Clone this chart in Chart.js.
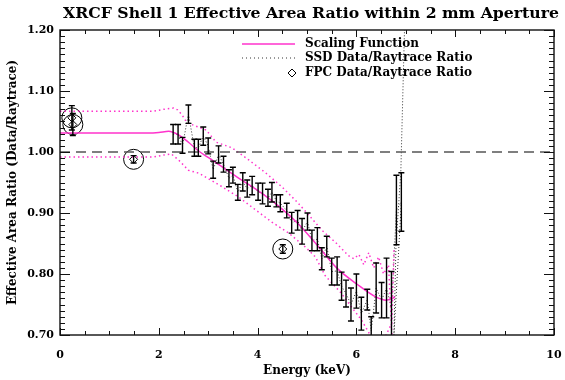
<!DOCTYPE html>
<html>
<head>
<meta charset="utf-8">
<script src="https://cdn.jsdelivr.net/npm/chart.js@4.4.1/dist/chart.umd.min.js"></script>
<style>
  html, body { margin: 0; padding: 0; background: #fff; }
</style>
</head>
<body>
<canvas id="chart" width="565" height="380"></canvas>
<script>
// ---- values ----
const chartTitle = 'XRCF Shell 1 Effective Area Ratio within 2 mm Aperture';
const xTicks = [0, 2, 4, 6, 8, 10];
const yTicks = [0.70, 0.80, 0.90, 1.00, 1.10, 1.20];

// scaling function (solid magenta)
const scaleE = [0, 0.5, 1.0, 1.5, 1.8, 2.0, 2.2, 2.4, 2.6, 2.8, 3.0, 3.2, 3.6, 4.0, 4.4, 4.8, 5.2, 5.6, 6.0, 6.4, 6.6, 6.78];
const scaleV = [1.031, 1.031, 1.031, 1.031, 1.031, 1.032, 1.034, 1.028, 1.016, 1.002, 0.991, 0.980, 0.958, 0.937, 0.913, 0.884, 0.848, 0.810, 0.784, 0.762, 0.757, 0.762];

// upper / lower envelope (dotted magenta)
const upperE = [0, 1.9, 2.1, 2.3, 2.38, 2.47, 2.57, 2.96, 3.16, 3.48, 3.82, 4.16, 4.49, 4.8, 5.0, 5.3, 5.6, 5.84, 5.95, 6.05, 6.15, 6.25, 6.35, 6.45, 6.55, 6.65, 6.72];
const upperV = [1.067, 1.067, 1.070, 1.072, 1.069, 1.061, 1.048, 1.036, 1.016, 1.007, 0.987, 0.966, 0.943, 0.918, 0.900, 0.872, 0.850, 0.830, 0.825, 0.832, 0.815, 0.835, 0.810, 0.828, 0.800, 0.815, 0.700];
const lowerE = [0, 1.9, 2.1, 2.25, 2.4, 2.6, 2.82, 3.22, 3.62, 3.96, 4.29, 4.63, 4.97, 5.17, 5.37, 5.69, 5.90, 6.10, 6.28, 6.45, 6.60, 6.72, 6.76];
const lowerV = [0.992, 0.992, 0.995, 0.997, 0.987, 0.970, 0.965, 0.946, 0.926, 0.905, 0.885, 0.867, 0.844, 0.828, 0.797, 0.769, 0.746, 0.725, 0.700, 0.690, 0.700, 0.720, 0.840];

// SSD data / raytrace ratio with error bars
const ssdE = [2.29, 2.39, 2.48, 2.60, 2.72, 2.80, 2.90, 3.00, 3.10, 3.21, 3.31, 3.42, 3.50, 3.60, 3.70, 3.79, 3.89, 4.01, 4.10, 4.21, 4.29, 4.38, 4.46, 4.59, 4.69, 4.81, 4.90, 5.01, 5.10, 5.21, 5.30, 5.40, 5.50, 5.61, 5.70, 5.79, 5.89, 6.00, 6.10, 6.22, 6.30, 6.40, 6.51, 6.61, 6.71, 6.81, 6.91];
const ssdV = [1.029, 1.029, 1.011, 1.062, 1.007, 1.007, 1.026, 1.010, 0.971, 0.996, 0.980, 0.957, 0.962, 0.934, 0.951, 0.940, 0.945, 0.935, 0.932, 0.925, 0.934, 0.920, 0.916, 0.904, 0.884, 0.888, 0.870, 0.886, 0.855, 0.857, 0.825, 0.845, 0.804, 0.805, 0.780, 0.768, 0.750, 0.772, 0.735, 0.758, 0.707, 0.777, 0.757, 0.777, 0.744, 0.905, 0.918];
const ssdErr = [0.016, 0.016, 0.013, 0.015, 0.014, 0.014, 0.015, 0.013, 0.014, 0.014, 0.013, 0.014, 0.013, 0.013, 0.015, 0.014, 0.015, 0.014, 0.017, 0.014, 0.016, 0.010, 0.014, 0.012, 0.017, 0.016, 0.021, 0.014, 0.017, 0.019, 0.018, 0.017, 0.022, 0.023, 0.023, 0.022, 0.027, 0.028, 0.027, 0.017, 0.023, 0.041, 0.029, 0.049, 0.060, 0.057, 0.048];
// where the SSD dotted curve runs up out of the plot
const ssdTailE = [6.76, 6.80, 6.90, 6.98];
const ssdTailV = [0.700, 0.844, 0.970, 1.220];

// FPC data / raytrace ratio
const fpcE = [0.24, 0.26, 1.49, 4.51];
const fpcV = [1.056, 1.045, 0.988, 0.841];
const fpcErr = [0.020, 0.018, 0.006, 0.007];

const refE = [0, 10];
const refV = [1.0, 1.0];

const MAGENTA = '#ff33cc';
const FONT = 'DejaVu Serif';

const pts = (xs, ys) => xs.map((x, i) => ({ x: x, y: ys[i] }));
const noPad = () => ({ left: 0, right: 0, top: 0, bottom: 0 });

// error bars, box, inward ticks, title and legend
const ratioDecor = {
    id: 'ratioDecor',
    afterDatasetsDraw(chart) {
        const { ctx, chartArea: a, scales: { x, y } } = chart;
        ctx.save();
        ctx.beginPath();
        ctx.rect(a.left, a.top, a.right - a.left, a.bottom - a.top);
        ctx.clip();
        ctx.strokeStyle = '#000';
        ctx.lineWidth = 1.4;
        const bar = (e, v, err, cap) => {
            const px = x.getPixelForValue(e);
            const top = y.getPixelForValue(v + err);
            const bot = y.getPixelForValue(v - err);
            ctx.beginPath();
            ctx.moveTo(px, top); ctx.lineTo(px, bot);
            ctx.moveTo(px - cap, top); ctx.lineTo(px + cap, top);
            ctx.moveTo(px - cap, bot); ctx.lineTo(px + cap, bot);
            ctx.stroke();
        };
        ssdE.forEach((e, i) => bar(e, ssdV[i], ssdErr[i], 3));
        fpcE.forEach((e, i) => bar(e, fpcV[i], fpcErr[i], 3));
        ctx.restore();
    },
    afterDraw(chart) {
        const { ctx, chartArea: a, scales: { x, y } } = chart;
        ctx.save();
        ctx.strokeStyle = '#111';
        ctx.lineWidth = 1.4;
        ctx.strokeRect(a.left, a.top, a.right - a.left, a.bottom - a.top);
        ctx.lineWidth = 1;
        ctx.beginPath();
        for (let v = 0; v <= 10.001; v += 0.5) {
            const px = Math.round(x.getPixelForValue(v)) + 0.5;
            const len = xTicks.includes(Math.round(v * 10) / 10) ? 7 : 4;
            ctx.moveTo(px, a.bottom); ctx.lineTo(px, a.bottom - len);
            ctx.moveTo(px, a.top); ctx.lineTo(px, a.top + len);
        }
        for (let k = 70; k <= 120; k++) {
            const py = Math.round(y.getPixelForValue(k / 100)) + 0.5;
            const len = k % 10 === 0 ? 10 : 5;
            ctx.moveTo(a.left, py); ctx.lineTo(a.left + len, py);
            ctx.moveTo(a.right, py); ctx.lineTo(a.right - len, py);
        }
        ctx.stroke();

        // title, centred a little right of the plot box as in the original
        ctx.fillStyle = '#000';
        ctx.font = 'bold 15.7px "' + FONT + '"';
        ctx.textAlign = 'center';
        ctx.textBaseline = 'middle';
        ctx.fillText(chartTitle, (a.left + a.right) / 2 + 4, 14);

        // legend
        const lx0 = 242, lx1 = 295, tx = 305;
        const rows = [44, 58, 73];
        ctx.lineWidth = 1.5;
        ctx.strokeStyle = MAGENTA;
        ctx.beginPath(); ctx.moveTo(lx0, rows[0]); ctx.lineTo(lx1, rows[0]); ctx.stroke();
        ctx.strokeStyle = '#333';
        ctx.lineWidth = 1;
        ctx.setLineDash([1, 3]);
        ctx.beginPath(); ctx.moveTo(lx0, rows[1]); ctx.lineTo(lx1, rows[1]); ctx.stroke();
        ctx.setLineDash([]);
        ctx.strokeStyle = '#000';
        ctx.beginPath();
        ctx.moveTo(292, rows[2] - 4); ctx.lineTo(296, rows[2]);
        ctx.lineTo(292, rows[2] + 4); ctx.lineTo(288, rows[2]); ctx.closePath();
        ctx.stroke();
        ctx.font = 'bold 12px "' + FONT + '"';
        ctx.textAlign = 'left';
        ctx.fillText('Scaling Function', tx, rows[0]);
        ctx.fillText('SSD Data/Raytrace Ratio', tx, rows[1]);
        ctx.fillText('FPC Data/Raytrace Ratio', tx, rows[2]);
        ctx.restore();
    }
};

new Chart(document.getElementById('chart'), {
    type: 'scatter',
    data: {
        datasets: [
            { data: pts(refE, refV), showLine: true, borderColor: '#555', borderWidth: 1.5, borderDash: [10, 6], pointRadius: 0 },
            { data: pts(upperE, upperV), showLine: true, borderColor: MAGENTA, borderWidth: 1.5, borderDash: [1.5, 3], pointRadius: 0 },
            { data: pts(lowerE, lowerV), showLine: true, borderColor: MAGENTA, borderWidth: 1.5, borderDash: [1.5, 3], pointRadius: 0 },
            { data: pts(scaleE, scaleV), showLine: true, borderColor: MAGENTA, borderWidth: 1.5, cubicInterpolationMode: 'monotone', pointRadius: 0 },
            { data: pts(ssdE, ssdV).concat(pts(ssdTailE, ssdTailV)), showLine: true, borderColor: '#333', borderWidth: 1, borderDash: [1, 2], pointRadius: 0 },
            { data: pts(fpcE, fpcV), pointStyle: 'rectRot', pointRadius: 4, borderColor: '#000', borderWidth: 1, backgroundColor: 'rgba(0,0,0,0)' },
            { data: pts(fpcE, fpcV), pointStyle: 'circle', pointRadius: 10, borderColor: '#000', borderWidth: 1, backgroundColor: 'rgba(0,0,0,0)' }
        ]
    },
    options: {
        responsive: false,
        animation: false,
        layout: { padding: { left: 0, right: 4, top: 30, bottom: 0 } },
        plugins: {
            legend: { display: false },
            tooltip: { enabled: false },
            title: { display: false }
        },
        scales: {
            x: {
                type: 'linear', min: 0, max: 10,
                afterBuildTicks: s => { s.ticks = xTicks.map(v => ({ value: v })); },
                afterFit: s => { s.height = 45; s.paddingLeft = 0; s.paddingRight = 0; s.getPadding = noPad; },
                grid: { display: false, drawTicks: false },
                border: { display: false },
                ticks: { color: '#000', padding: 14, maxRotation: 0, font: { family: FONT, size: 11, weight: 'bold' } },
                title: { display: true, text: 'Energy (keV)', color: '#000', padding: { top: 0, bottom: 2 }, font: { family: FONT, size: 12, weight: 'bold' } }
            },
            y: {
                type: 'linear', min: 0.70, max: 1.20,
                afterBuildTicks: s => { s.ticks = yTicks.map(v => ({ value: v })); },
                afterFit: s => { s.width = 60; s.getPadding = noPad; },
                grid: { display: false, drawTicks: false },
                border: { display: false },
                ticks: { color: '#000', padding: 6, callback: v => v.toFixed(2), font: { family: FONT, size: 11, weight: 'bold' } },
                title: { display: true, text: 'Effective Area Ratio (Data/Raytrace)', color: '#000', padding: { top: 6, bottom: 0 }, font: { family: FONT, size: 12, weight: 'bold' } }
            }
        }
    },
    plugins: [ratioDecor]
});
</script>
</body>
</html>
